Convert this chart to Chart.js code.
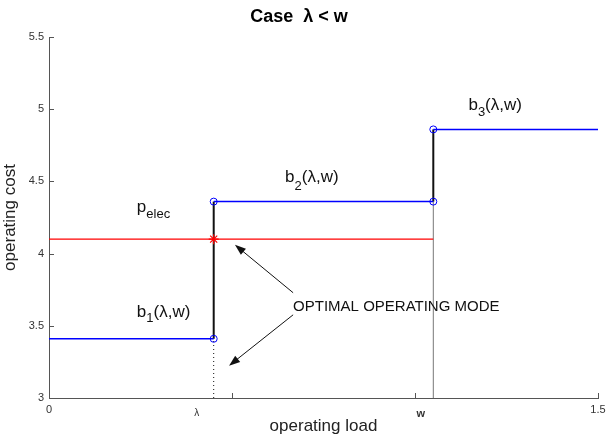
<!DOCTYPE html>
<html>
<head>
<meta charset="utf-8">
<script src="https://cdn.jsdelivr.net/npm/chart.js@4"></script>
<style>
html, body { margin: 0; padding: 0; background: #fff; }
</style>
</head>
<body>
<canvas id="myChart" width="607" height="437"></canvas>
<script>
// values
const lambda = 0.45;
const w = 1.05;
const xMin = 0;
const xMax = 1.5;
const yMin = 3;
const yMax = 5.5;
const costB1 = 3.41;
const costB2 = 4.36;
const costB3 = 4.86;
const pElec = 4.10;
const yTicks = [3, 3.5, 4, 4.5, 5, 5.5];
const xTicks = [0, 0.5, 1, 1.5];
const xTickLabels = ['0', 'λ', 'w', '1.5'];
const xTickLabelPos = [0, 0.404, 1.016, 1.5];

// text placed on the plot (data coordinates)
const curveLabels = [
    { base: 'b', sub: '1', tail: '(λ,w)', x: 0.24, y: 3.561, dy: 5 },
    { base: 'b', sub: '2', tail: '(λ,w)', x: 0.645, y: 4.498, dy: 8 },
    { base: 'b', sub: '3', tail: '(λ,w)', x: 1.146, y: 4.994, dy: 6 },
    { base: 'p', sub: 'elec', tail: '', x: 0.24, y: 4.288, dy: 6 }
];
const noteText = 'OPTIMAL OPERATING MODE';
const notePos = { x: 0.667, y: 3.63 };
const arrows = [
    { from: [0.667, 3.729], to: [0.508, 4.061] },
    { from: [0.667, 3.576], to: [0.492, 3.224] }
];

const FONT = '"Liberation Sans", Arial, Helvetica, sans-serif';
const axisColor = '#555';
const blue = '#0000ff';
const red = '#ff0000';

function seg(x0, y0, x1, y1) {
    return [{ x: x0, y: y0 }, { x: x1, y: y1 }];
}

const annotate = {
    id: 'annotate',
    afterDatasetsDraw(chart) {
        const { ctx, scales: { x, y } } = chart;
        ctx.save();

        // tick marks pointing into the plot
        ctx.strokeStyle = axisColor;
        ctx.lineWidth = 1;
        ctx.beginPath();
        yTicks.forEach(v => {
            const py = Math.round(y.getPixelForValue(v)) + 0.5;
            ctx.moveTo(x.left, py);
            ctx.lineTo(x.left + 5, py);
        });
        xTicks.forEach(v => {
            const px = Math.round(x.getPixelForValue(v)) + 0.5;
            ctx.moveTo(px, y.bottom);
            ctx.lineTo(px, y.bottom - 5);
        });
        ctx.stroke();

        // x tick labels
        ctx.fillStyle = '#333';
        ctx.textAlign = 'center';
        ctx.textBaseline = 'middle';
        xTickLabels.forEach((t, i) => {
            const px = x.getPixelForValue(xTickLabelPos[i]);
            if (t === 'w') {
                ctx.font = 'bold 11px ' + FONT;
                ctx.fillText(t, px, y.bottom + 16);
            } else if (t === 'λ') {
                ctx.font = '10px ' + FONT;
                ctx.fillText(t, px, y.bottom + 15);
            } else {
                ctx.font = '11px ' + FONT;
                ctx.fillText(t, px, y.bottom + 12);
            }
        });

        // curve labels with subscripts
        ctx.fillStyle = '#111';
        ctx.textAlign = 'left';
        ctx.textBaseline = 'alphabetic';
        curveLabels.forEach(l => {
            let px = x.getPixelForValue(l.x);
            const py = y.getPixelForValue(l.y);
            ctx.font = '17px ' + FONT;
            ctx.fillText(l.base, px, py);
            px += ctx.measureText(l.base).width;
            ctx.font = '13px ' + FONT;
            ctx.fillText(l.sub, px, py + l.dy);
            px += ctx.measureText(l.sub).width;
            ctx.font = '17px ' + FONT;
            ctx.fillText(l.tail, px, py);
        });

        // note and arrows
        ctx.font = '15px ' + FONT;
        ctx.textBaseline = 'middle';
        ctx.fillText(noteText, x.getPixelForValue(notePos.x), y.getPixelForValue(notePos.y));

        ctx.strokeStyle = '#111';
        ctx.fillStyle = '#111';
        ctx.lineWidth = 1;
        arrows.forEach(a => {
            const x0 = x.getPixelForValue(a.from[0]), y0 = y.getPixelForValue(a.from[1]);
            const x1 = x.getPixelForValue(a.to[0]), y1 = y.getPixelForValue(a.to[1]);
            const ang = Math.atan2(y1 - y0, x1 - x0);
            ctx.beginPath();
            ctx.moveTo(x0, y0);
            ctx.lineTo(x1 - 8 * Math.cos(ang), y1 - 8 * Math.sin(ang));
            ctx.stroke();
            ctx.beginPath();
            ctx.moveTo(x1, y1);
            ctx.lineTo(x1 - 11 * Math.cos(ang) + 4 * Math.sin(ang), y1 - 11 * Math.sin(ang) - 4 * Math.cos(ang));
            ctx.lineTo(x1 - 11 * Math.cos(ang) - 4 * Math.sin(ang), y1 - 11 * Math.sin(ang) + 4 * Math.cos(ang));
            ctx.closePath();
            ctx.fill();
        });

        ctx.restore();
    }
};

function drawChart() {
    const ctx = document.getElementById('myChart').getContext('2d');
    const circle = { pointStyle: 'circle', pointBorderColor: blue, pointBackgroundColor: 'rgba(0,0,0,0)', pointBorderWidth: 1 };

    new Chart(ctx, {
        type: 'scatter',
        data: {
            datasets: [
                { label: 'b1', data: seg(0, costB1, lambda, costB1), showLine: true, borderColor: blue, borderWidth: 1.5, pointRadius: [0, 3.5], ...circle },
                { label: 'b2', data: seg(lambda, costB2, w, costB2), showLine: true, borderColor: blue, borderWidth: 1.5, pointRadius: [3.5, 3.5], ...circle },
                { label: 'b3', data: seg(w, costB3, xMax, costB3), showLine: true, borderColor: blue, borderWidth: 1.5, pointRadius: [3.5, 0], ...circle },
                { label: 'optimum', data: [{ x: lambda, y: pElec }], pointStyle: 'star', pointRadius: 5, pointBorderColor: red, pointBorderWidth: 1.2, pointBackgroundColor: red },
                { label: 'pelec', data: seg(0, pElec, w, pElec), showLine: true, borderColor: red, borderWidth: 1.2, pointRadius: 0 },
                { label: 'jump at lambda', data: seg(lambda, costB1, lambda, costB2), showLine: true, borderColor: '#111', borderWidth: 2, pointRadius: 0 },
                { label: 'jump at w', data: seg(w, costB2, w, costB3), showLine: true, borderColor: '#111', borderWidth: 2, pointRadius: 0 },
                { label: 'w line', data: seg(w, yMin, w, costB2), showLine: true, borderColor: '#777', borderWidth: 1, pointRadius: 0 },
                { label: 'lambda guide', data: seg(lambda, yMin, lambda, costB1), showLine: true, borderColor: '#111', borderWidth: 1, borderDash: [1, 3], pointRadius: 0 }
            ]
        },
        options: {
            responsive: false,
            animation: false,
            layout: { padding: { top: 0, right: 9, bottom: 0, left: 0 } },
            plugins: {
                legend: { display: false },
                tooltip: { enabled: false },
                title: {
                    display: true,
                    text: 'Case  λ < w',
                    color: '#000',
                    font: { family: FONT, size: 18, weight: 'bold' },
                    padding: { top: 6, bottom: 9.4 }
                }
            },
            scales: {
                x: {
                    type: 'linear',
                    min: xMin,
                    max: xMax,
                    afterBuildTicks: s => { s.ticks = xTicks.map(v => ({ value: v })); },
                    afterFit: s => { s.height = 39; },
                    ticks: { display: false },
                    grid: { display: false, drawTicks: false },
                    border: { display: true, color: axisColor, width: 1 },
                    title: { display: true, text: 'operating load', color: '#222', font: { family: FONT, size: 17 }, padding: { top: 0, bottom: 0 } }
                },
                y: {
                    type: 'linear',
                    min: yMin,
                    max: yMax,
                    afterBuildTicks: s => { s.ticks = yTicks.map(v => ({ value: v })); },
                    afterFit: s => { s.width = 49; },
                    ticks: { color: '#333', padding: 5, font: { family: FONT, size: 11 }, callback: v => String(v) },
                    grid: { display: false, drawTicks: false },
                    border: { display: true, color: axisColor, width: 1 },
                    title: { display: true, text: 'operating cost', color: '#222', font: { family: FONT, size: 17 }, padding: { top: 0, bottom: 0 } }
                }
            }
        },
        plugins: [annotate]
    });
}

document.addEventListener('DOMContentLoaded', drawChart);
</script>
</body>
</html>
